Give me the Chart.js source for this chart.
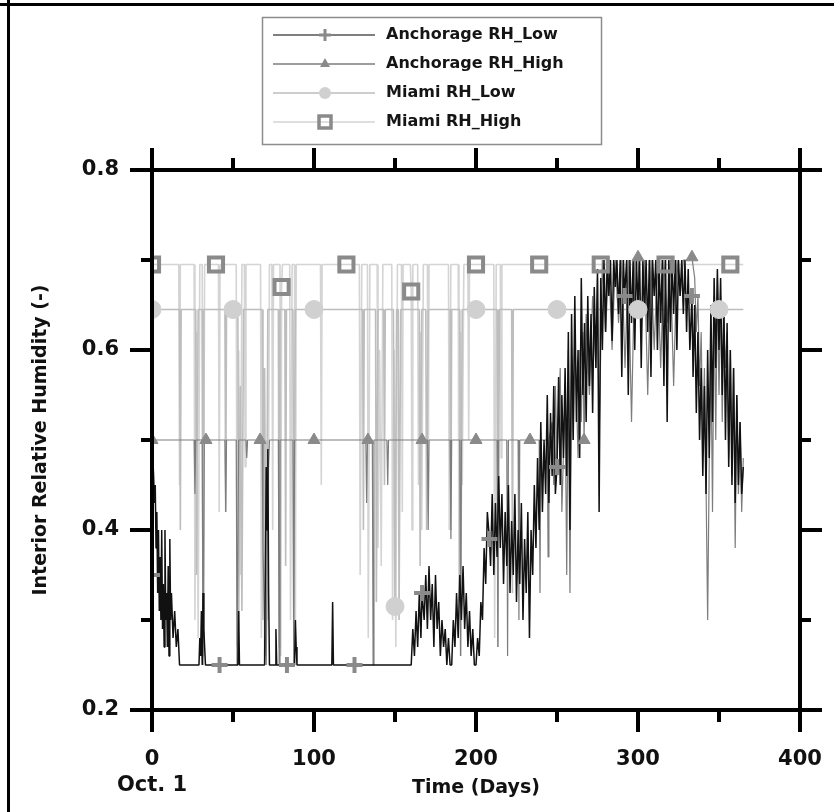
<!DOCTYPE html>
<html>
<head>
<meta charset="utf-8">
<script src="https://cdn.jsdelivr.net/npm/chart.js@4.4.0/dist/chart.umd.min.js"></script>
<style>
html, body { margin: 0; padding: 0; background: #fff; }
canvas { display: block; }
</style>
</head>
<body>
<canvas id="rhChart" width="834" height="812"></canvas>
<script>
// [day, interior RH]
const anchorageLow = [
    [0, 0.35], [0.5, 0.48], [1, 0.46], [1.5, 0.43], [2, 0.45], [2.5, 0.38], [3, 0.42], [3.5, 0.33], [4, 0.40], [4.5, 0.31],
    [5, 0.37], [5.5, 0.30], [6, 0.40], [6.5, 0.29], [7, 0.34], [7.5, 0.27], [8, 0.40], [8.5, 0.30], [9, 0.33], [9.5, 0.27],
    [10, 0.36], [10.5, 0.26], [11, 0.39], [11.5, 0.30], [12, 0.33], [13, 0.28], [14, 0.31], [15, 0.27], [16, 0.29], [17, 0.25],
    [29, 0.25], [29.5, 0.28], [30, 0.26], [30.5, 0.31], [31, 0.25], [31.5, 0.33], [32, 0.29], [33, 0.25],
    [41.7, 0.25], [53, 0.25], [53.5, 0.31], [54, 0.25],
    [69.5, 0.25], [70, 0.36], [70.5, 0.47], [71, 0.40], [71.5, 0.49], [72, 0.33], [72.5, 0.25],
    [76, 0.25], [76.5, 0.29], [77, 0.25], [83.3, 0.25], [88, 0.25], [88.5, 0.30], [89, 0.27], [89.5, 0.25],
    [111, 0.25], [111.5, 0.32], [112, 0.25], [125, 0.25], [160, 0.25],
    [161, 0.29], [162, 0.26], [163, 0.31], [164, 0.27], [165, 0.33], [166, 0.28], [166.7, 0.33], [168, 0.30], [169, 0.35], [170, 0.29],
    [171, 0.36], [172, 0.30], [173, 0.34], [174, 0.27], [175, 0.35], [176, 0.29], [177, 0.32], [178, 0.26], [179, 0.30], [180, 0.27],
    [181, 0.29], [182, 0.25], [183, 0.28], [184, 0.25], [185, 0.25], [186, 0.30], [187, 0.27], [188, 0.33], [189, 0.28], [190, 0.35],
    [191, 0.30], [192, 0.36], [193, 0.29], [194, 0.33], [195, 0.27], [196, 0.31], [197, 0.26], [198, 0.29], [199, 0.25], [200, 0.25],
    [201, 0.28], [202, 0.26], [203, 0.32], [204, 0.30], [205, 0.38], [206, 0.34], [207, 0.42], [208.3, 0.39], [209, 0.36], [210, 0.44],
    [211, 0.35], [212, 0.43], [213, 0.37], [214, 0.46], [215, 0.38], [216, 0.44], [217, 0.34], [218, 0.42], [219, 0.36], [220, 0.45],
    [221, 0.33], [222, 0.41], [223, 0.35], [224, 0.44], [225, 0.32], [226, 0.40], [227, 0.34], [228, 0.43], [229, 0.30], [230, 0.39],
    [231, 0.33], [232, 0.42], [233, 0.28], [234, 0.40], [235, 0.35], [236, 0.45], [237, 0.38], [238, 0.48], [239, 0.40], [240, 0.52],
    [241, 0.42], [242, 0.50], [243, 0.44], [244, 0.55], [245, 0.43], [246, 0.53], [247, 0.46], [248, 0.56], [249, 0.44], [250, 0.47],
    [251, 0.57], [252, 0.45], [253, 0.55], [254, 0.48], [255, 0.58], [256, 0.46], [257, 0.62], [258, 0.40], [259, 0.64], [260, 0.50],
    [261, 0.66], [262, 0.52], [263, 0.60], [264, 0.48], [265, 0.68], [266, 0.55], [267, 0.63], [268, 0.52], [269, 0.66], [270, 0.56],
    [271, 0.64], [272, 0.53], [273, 0.67], [274, 0.58], [275, 0.69], [276, 0.42], [277, 0.68], [278, 0.60], [279, 0.70], [280, 0.62],
    [281, 0.70], [282, 0.66], [283, 0.70], [284, 0.61], [285, 0.70], [286, 0.67], [287, 0.70], [288, 0.64], [289, 0.70], [290, 0.57],
    [291, 0.70], [291.7, 0.66], [293, 0.70], [294, 0.55], [295, 0.70], [296, 0.63], [297, 0.70], [298, 0.60], [299, 0.70], [300, 0.65],
    [301, 0.70], [302, 0.58], [303, 0.70], [304, 0.64], [305, 0.70], [306, 0.62], [307, 0.70], [308, 0.57], [309, 0.70], [310, 0.66],
    [311, 0.70], [312, 0.60], [313, 0.70], [314, 0.63], [315, 0.70], [316, 0.56], [317, 0.70], [318, 0.52], [319, 0.70], [320, 0.62],
    [321, 0.70], [322, 0.64], [323, 0.70], [324, 0.60], [325, 0.70], [326, 0.66], [327, 0.70], [328, 0.64], [329, 0.70], [330, 0.62],
    [331, 0.69], [332, 0.60], [333.3, 0.66], [334, 0.57], [335, 0.65], [336, 0.53], [337, 0.62], [338, 0.50], [339, 0.58], [340, 0.46],
    [341, 0.56], [342, 0.44], [343, 0.60], [344, 0.48], [345, 0.65], [346, 0.52], [347, 0.68], [348, 0.58], [349, 0.69], [350, 0.60],
    [351, 0.68], [352, 0.55], [353, 0.65], [354, 0.50], [355, 0.63], [356, 0.47], [357, 0.60], [358, 0.45], [359, 0.58], [360, 0.43],
    [361, 0.55], [362, 0.45], [363, 0.52], [364, 0.44], [365, 0.47]
];

const anchorageHigh = [
    [0, 0.5], [26, 0.5], [26.5, 0.44], [27, 0.5], [31, 0.5], [31.5, 0.25], [32.3, 0.5], [33.3, 0.5], [45, 0.5], [45.5, 0.42],
    [46, 0.5], [52, 0.5], [52.5, 0.25], [53.5, 0.5], [58, 0.5], [58.5, 0.48], [59, 0.5], [66.7, 0.5], [68, 0.5], [68.5, 0.38],
    [69.5, 0.30], [70.5, 0.25], [71.5, 0.45], [72.5, 0.5], [78, 0.5], [78.5, 0.25], [79, 0.5], [87, 0.5], [87.5, 0.25], [88, 0.5],
    [100, 0.5], [132, 0.5], [132.5, 0.43], [133, 0.5], [133.3, 0.5], [136, 0.5], [136.5, 0.25], [137, 0.5], [145, 0.5], [145.5, 0.45],
    [146, 0.5], [166.7, 0.5], [170, 0.5], [170.5, 0.40], [171, 0.5], [184, 0.5], [184.5, 0.39], [185, 0.5], [190, 0.5], [190.5, 0.26],
    [191, 0.5], [200, 0.5], [213, 0.5], [213.5, 0.27], [214, 0.5], [219, 0.5], [219.5, 0.26], [220, 0.5], [226, 0.5], [226.5, 0.30],
    [227, 0.5], [233.3, 0.5], [239, 0.5], [239.5, 0.33], [240, 0.5], [244, 0.5], [244.5, 0.37], [245, 0.5], [247, 0.52], [248, 0.45],
    [249, 0.56], [250, 0.48], [252, 0.58], [253, 0.42], [255, 0.55], [256, 0.35], [257, 0.60], [258, 0.33], [259, 0.58], [260, 0.50],
    [261, 0.62], [263, 0.48], [264, 0.60], [265, 0.52], [266, 0.62], [266.7, 0.50], [268, 0.64], [270, 0.55], [272, 0.66], [274, 0.58],
    [275, 0.68], [276, 0.50], [278, 0.70], [280, 0.62], [282, 0.70], [284, 0.60], [286, 0.70], [288, 0.63], [290, 0.70], [292, 0.58],
    [294, 0.70], [296, 0.52], [298, 0.70], [300, 0.703], [302, 0.62], [304, 0.70], [306, 0.55], [308, 0.70], [310, 0.60], [312, 0.70],
    [314, 0.58], [316, 0.70], [318, 0.63], [320, 0.70], [322, 0.56], [324, 0.70], [326, 0.66], [328, 0.70], [330, 0.70], [333.3, 0.703],
    [335, 0.68], [336, 0.62], [337, 0.66], [338, 0.56], [339, 0.62], [340, 0.50], [341, 0.58], [342, 0.45], [343, 0.30], [344, 0.48],
    [345, 0.60], [346, 0.42], [347, 0.66], [348, 0.50], [349, 0.68], [350, 0.55], [351, 0.66], [352, 0.52], [353, 0.64], [354, 0.58],
    [355, 0.62], [356, 0.48], [357, 0.60], [358, 0.46], [359, 0.58], [360, 0.38], [361, 0.55], [362, 0.44], [363, 0.52], [364, 0.42],
    [365, 0.48]
];

const miamiLow = [
    [0, 0.645], [17, 0.645], [17.5, 0.40], [18, 0.645], [27, 0.645], [27.5, 0.35], [28.5, 0.645], [31, 0.645], [31.5, 0.26], [32, 0.645],
    [45, 0.645], [45.5, 0.42], [46, 0.645], [50, 0.645], [53, 0.645], [53.5, 0.29], [54.5, 0.56], [55.5, 0.31], [56.5, 0.645], [68, 0.645],
    [68.5, 0.30], [69.5, 0.58], [70.5, 0.26], [71.5, 0.645], [78, 0.645], [78.5, 0.27], [79, 0.645], [82, 0.645], [82.5, 0.36], [83, 0.645],
    [87, 0.645], [87.5, 0.30], [88.5, 0.645], [100, 0.645], [130, 0.645], [130.5, 0.40], [131, 0.645], [138, 0.645], [138.5, 0.32], [139.5, 0.645],
    [143, 0.645], [143.5, 0.45], [144, 0.645], [149, 0.645], [150, 0.315], [151, 0.645], [152, 0.645], [152.5, 0.30], [153.5, 0.645], [165, 0.645],
    [165.5, 0.36], [166.5, 0.645], [169, 0.645], [169.5, 0.40], [170.5, 0.645], [184, 0.645], [184.5, 0.40], [185, 0.645], [190, 0.645], [190.5, 0.26],
    [191.5, 0.645], [200, 0.645], [213, 0.645], [213.5, 0.27], [214.5, 0.645], [222, 0.645], [222.5, 0.33], [223, 0.645], [250, 0.645], [300, 0.645],
    [350, 0.645], [365, 0.645]
];

const miamiHigh = [
    [0, 0.695], [16.5, 0.695], [17, 0.45], [17.5, 0.695], [26, 0.695], [26.5, 0.30], [27.5, 0.62], [28.5, 0.28], [29.5, 0.695], [31, 0.695],
    [31.5, 0.26], [32.5, 0.695], [39.5, 0.695], [41, 0.695], [41.5, 0.42], [42, 0.695], [52, 0.695], [52.5, 0.27], [53.5, 0.60], [54.5, 0.35],
    [55.5, 0.695], [57, 0.695], [57.5, 0.47], [58, 0.695], [67, 0.695], [67.5, 0.28], [68.5, 0.55], [69.5, 0.26], [70.5, 0.50], [71.5, 0.30],
    [72.5, 0.695], [74, 0.695], [74.5, 0.40], [75, 0.695], [79, 0.695], [79.5, 0.26], [80, 0.67], [80.5, 0.695], [85, 0.695], [85.5, 0.30],
    [86.5, 0.695], [88, 0.695], [88.5, 0.27], [89, 0.695], [104, 0.695], [104.5, 0.45], [105, 0.695], [120, 0.695], [128, 0.695], [128.5, 0.35],
    [129.5, 0.695], [133, 0.695], [133.5, 0.28], [134.5, 0.695], [139, 0.695], [139.5, 0.38], [140.5, 0.60], [141.5, 0.36], [142.5, 0.695], [148, 0.695],
    [148.5, 0.30], [149.5, 0.60], [150.5, 0.27], [151.5, 0.695], [154, 0.695], [154.5, 0.42], [155, 0.695], [159.5, 0.695], [160, 0.665], [160.5, 0.40],
    [161, 0.695], [164, 0.695], [164.5, 0.45], [165.5, 0.62], [166.5, 0.40], [167.5, 0.695], [170, 0.695], [170.5, 0.42], [171, 0.695], [183, 0.695],
    [183.5, 0.40], [184.5, 0.695], [189, 0.695], [189.5, 0.32], [190.5, 0.62], [191.5, 0.45], [192.5, 0.695], [195, 0.695], [195.5, 0.50], [196, 0.695],
    [200, 0.695], [211, 0.695], [211.5, 0.28], [212.5, 0.695], [215, 0.695], [215.5, 0.48], [216, 0.695], [239, 0.695], [277, 0.695], [317, 0.695],
    [357, 0.695], [365, 0.695]
];

// days where each series carries a symbol
const anchorageLowMarks = [0, 41.7, 83.3, 125, 166.7, 208.3, 250, 291.7, 333.3];
const anchorageHighMarks = [0, 33.3, 66.7, 100, 133.3, 166.7, 200, 233.3, 266.7, 300, 333.3];
const miamiLowMarks = [0, 50, 100, 150, 200, 250, 300, 350];
const miamiHighMarks = [0, 39.5, 80, 120, 160, 200, 239, 277, 317, 357];

const seriesNames = ['Anchorage RH_Low', 'Anchorage RH_High', 'Miami RH_Low', 'Miami RH_High'];
const xTicks = [0, 100, 200, 300, 400];
const xMinorTicks = [50, 150, 250, 350];
const yTicks = [0.2, 0.4, 0.6, 0.8];
const yMinorTicks = [0.3, 0.5, 0.7];

const lineColors = ['#111111', '#7d7d7d', '#bdbdbd', '#d4d4d4'];
const markColor = '#8a8a8a';
const FONT = 'DejaVu Sans';

const toPoints = arr => arr.map(p => ({x: p[0], y: p[1]}));
const pickMarks = (arr, days) => days.map(d => {
    const p = arr.find(q => Math.abs(q[0] - d) < 1e-9);
    return {x: p[0], y: p[1]};
});

const lineSet = (label, arr, color, width, order) => ({
    label: label,
    data: toPoints(arr),
    borderColor: color,
    borderWidth: width,
    borderJoinStyle: 'bevel',
    pointRadius: 0,
    tension: 0,
    order: order
});

const markSet = (label, arr, days, style) => Object.assign({
    label: label + ' marks',
    data: pickMarks(arr, days),
    showLine: false,
    order: 0
}, style);

const frame = {
    id: 'frame',
    afterDraw(chart) {
        const ctx = chart.ctx;
        const xs = chart.scales.x;
        const ys = chart.scales.y;
        const l = xs.getPixelForValue(0), r = xs.getPixelForValue(400);
        const t = ys.getPixelForValue(0.8), b = ys.getPixelForValue(0.2);
        const seg = (x1, y1, x2, y2) => {
            ctx.beginPath(); ctx.moveTo(x1, y1); ctx.lineTo(x2, y2); ctx.stroke();
        };
        ctx.save();
        ctx.strokeStyle = '#000';
        ctx.lineWidth = 4;
        ctx.lineCap = 'square';
        ctx.strokeRect(l, t, r - l, b - t);
        ctx.lineCap = 'butt';
        xTicks.concat(xMinorTicks).forEach(d => {
            const px = xs.getPixelForValue(d);
            const len = xTicks.includes(d) ? 22 : 12;
            seg(px, t, px, t - len);
            seg(px, b, px, b + len);
        });
        yTicks.concat(yMinorTicks).forEach(v => {
            const py = ys.getPixelForValue(v);
            const len = yTicks.includes(v) ? 22 : 11;
            seg(l, py, l - len, py);
            seg(r, py, r + len, py);
        });
        // page border
        ctx.lineWidth = 3;
        seg(0, 4.5, chart.width, 4.5);
        seg(8.5, 0, 8.5, chart.height);
        ctx.restore();
    }
};

function legendMark(ctx, i, x, y) {
    ctx.save();
    ctx.strokeStyle = markColor;
    ctx.fillStyle = markColor;
    if (i === 0) {
        ctx.lineWidth = 3;
        ctx.beginPath();
        ctx.moveTo(x - 6, y); ctx.lineTo(x + 6, y);
        ctx.moveTo(x, y - 6); ctx.lineTo(x, y + 6);
        ctx.stroke();
    } else if (i === 1) {
        ctx.beginPath();
        ctx.moveTo(x, y - 6); ctx.lineTo(x + 5, y + 3); ctx.lineTo(x - 5, y + 3);
        ctx.closePath(); ctx.fill();
    } else if (i === 2) {
        ctx.fillStyle = '#d0d0d0';
        ctx.beginPath(); ctx.arc(x, y, 6, 0, Math.PI * 2); ctx.fill();
    } else {
        ctx.lineWidth = 3.5;
        ctx.strokeRect(x - 6, y - 6, 12, 12);
    }
    ctx.restore();
}

const boxLegend = {
    id: 'boxLegend',
    afterDraw(chart) {
        const ctx = chart.ctx;
        ctx.save();
        ctx.strokeStyle = '#8c8c8c';
        ctx.lineWidth = 1.5;
        ctx.strokeRect(262.5, 17.5, 339, 127);
        seriesNames.forEach((name, i) => {
            const y = 35 + i * 29;
            ctx.strokeStyle = i === 0 ? '#555' : lineColors[i];
            ctx.lineWidth = 1.5;
            ctx.beginPath(); ctx.moveTo(273, y); ctx.lineTo(375, y); ctx.stroke();
            legendMark(ctx, i, 325, y);
            ctx.fillStyle = '#151515';
            ctx.font = 'bold 16px "' + FONT + '"';
            ctx.textBaseline = 'middle';
            ctx.textAlign = 'left';
            ctx.fillText(name, 386, y);
        });
        ctx.restore();
    }
};

const rhChart = new Chart(document.getElementById('rhChart').getContext('2d'), {
    type: 'line',
    data: {
        datasets: [
            markSet(seriesNames[0], anchorageLow, anchorageLowMarks, {
                pointStyle: 'cross', pointRadius: 8, pointBorderWidth: 4, pointBorderColor: markColor, pointBackgroundColor: markColor
            }),
            markSet(seriesNames[1], anchorageHigh, anchorageHighMarks, {
                pointStyle: 'triangle', pointRadius: 7, pointBorderWidth: 1, pointBorderColor: markColor, pointBackgroundColor: markColor
            }),
            markSet(seriesNames[2], miamiLow, miamiLowMarks, {
                pointStyle: 'circle', pointRadius: 9, pointBorderWidth: 1, pointBorderColor: '#d0d0d0', pointBackgroundColor: '#d0d0d0'
            }),
            markSet(seriesNames[3], miamiHigh, miamiHighMarks, {
                pointStyle: 'rect', pointRadius: 10, pointBorderWidth: 4, pointBorderColor: markColor, pointBackgroundColor: 'rgba(0,0,0,0)'
            }),
            lineSet(seriesNames[0], anchorageLow, lineColors[0], 1.5, 1),
            lineSet(seriesNames[1], anchorageHigh, lineColors[1], 1.2, 2),
            lineSet(seriesNames[2], miamiLow, lineColors[2], 1.6, 3),
            lineSet(seriesNames[3], miamiHigh, lineColors[3], 1.6, 4)
        ]
    },
    options: {
        responsive: false,
        animation: false,
        layout: { padding: { top: 170, right: 34, left: 0, bottom: 0 } },
        plugins: {
            legend: { display: false },
            tooltip: { enabled: false }
        },
        scales: {
            x: {
                type: 'linear',
                min: 0,
                max: 400,
                grid: { display: false, drawTicks: true, tickLength: 34 },
                border: { display: false },
                afterBuildTicks: s => { s.ticks = xTicks.map(v => ({value: v})); },
                ticks: {
                    padding: 2,
                    color: '#111',
                    maxRotation: 0,
                    autoSkip: false,
                    font: { family: FONT, size: 21, weight: 'bold', lineHeight: 1.25 },
                    callback: v => v === 0 ? ['0', 'Oct. 1'] : String(v)
                },
                title: {
                    display: true,
                    text: 'Time (Days)',
                    color: '#111',
                    font: { family: FONT, size: 19, weight: 'bold' },
                    padding: { top: 0, bottom: 13 }
                },
                afterFit: s => { s.height = 102; }
            },
            y: {
                type: 'linear',
                min: 0.2,
                max: 0.8,
                grid: { display: false, drawTicks: true, tickLength: 31 },
                border: { display: false },
                afterBuildTicks: s => { s.ticks = yTicks.map(v => ({value: v})); },
                ticks: {
                    padding: 2,
                    color: '#111',
                    font: { family: FONT, size: 21, weight: 'bold' },
                    callback: v => v.toFixed(1)
                },
                title: {
                    display: true,
                    text: 'Interior Relative Humidity (-)',
                    color: '#111',
                    font: { family: FONT, size: 19, weight: 'bold' },
                    padding: { top: 30, bottom: 0 }
                },
                afterFit: s => { s.width = 152; }
            }
        }
    },
    plugins: [frame, boxLegend]
});
</script>
</body>
</html>
